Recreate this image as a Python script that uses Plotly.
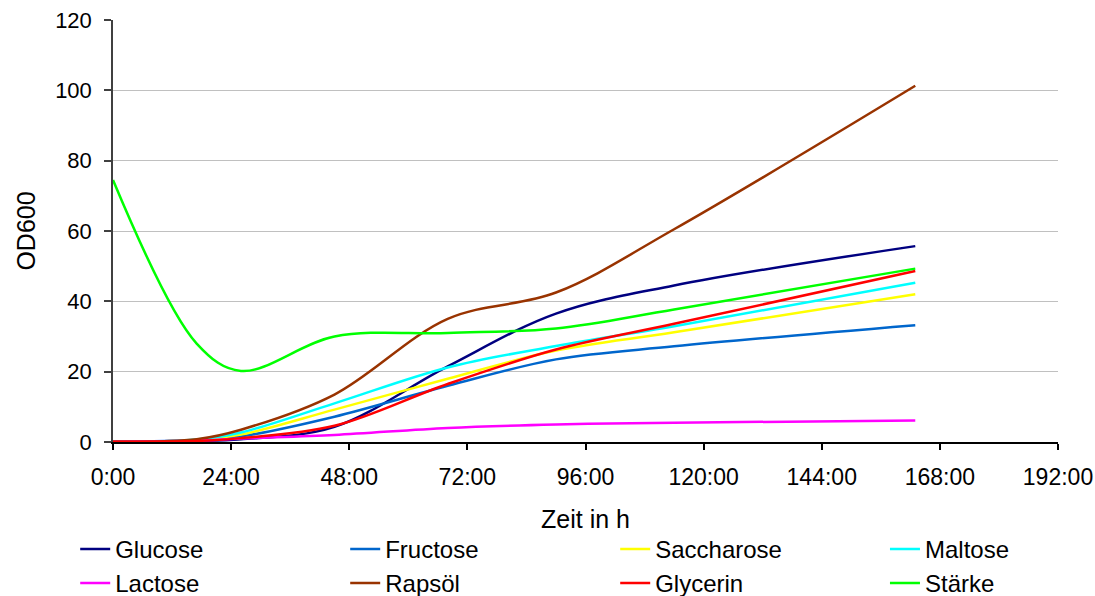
import plotly.graph_objects as go

# Time points (hours)
zeit_h = [0, 17, 26, 45, 68, 90, 114, 163]

glucose    = [0.1, 0.3, 0.8, 4.3, 21.5, 36.5, 44.5, 55.7]
fructose   = [0.1, 0.5, 1.6, 7.2, 16.0, 23.5, 27.2, 33.2]
saccharose = [0.1, 0.6, 2.1, 9.2, 18.0, 26.0, 31.2, 42.0]
maltose    = [0.1, 0.7, 2.7, 11.0, 21.2, 27.3, 32.9, 45.3]
lactose    = [0.1, 0.4, 1.0, 2.0, 4.0, 5.0, 5.5, 6.1]
rapsoel    = [0.1, 0.8, 3.5, 13.5, 35.0, 42.5, 60.5, 101.3]
glycerin   = [0.1, 0.3, 1.1, 4.6, 16.5, 26.3, 33.6, 48.6]
staerke    = [74.5, 28.0, 20.2, 30.0, 31.0, 32.3, 37.7, 49.3]

series_names = ["Glucose", "Fructose", "Saccharose", "Maltose",
                "Lactose", "Rapsöl", "Glycerin", "Stärke"]
series_values = [glucose, fructose, saccharose, maltose,
                 lactose, rapsoel, glycerin, staerke]
series_colors = ["#000080", "#0066CC", "#FFFF00", "#00FFFF",
                 "#FF00FF", "#993300", "#FF0000", "#00FF00"]
# 4th legend column (Maltose, Stärke) goes in a second legend box
series_legend = ["legend", "legend", "legend", "legend2",
                 "legend", "legend", "legend", "legend2"]

x_tickvals = [0, 24, 48, 72, 96, 120, 144, 168, 192]
x_ticktext = ["0:00", "24:00", "48:00", "72:00", "96:00",
              "120:00", "144:00", "168:00", "192:00"]
y_tickvals = [0, 20, 40, 60, 80, 100, 120]

FONT = "Liberation Sans, Arial, sans-serif"
LEG_FONT = dict(family=FONT, size=24, color="black")

fig = go.Figure()
for name, vals, col, leg in zip(series_names, series_values, series_colors, series_legend):
    fig.add_trace(go.Scatter(
        x=zeit_h, y=vals, name=name, mode="lines", legend=leg,
        line=dict(color=col, width=2.5, shape="spline", smoothing=1.0),
    ))

fig.update_layout(
    width=1095, height=596,
    margin=dict(l=113, r=37, t=20, b=154, autoexpand=False),
    paper_bgcolor="white", plot_bgcolor="white",
    font=dict(family=FONT, size=22, color="black"),
    showlegend=True,
    legend=dict(
        orientation="h", x=-0.040, xanchor="left", y=-0.201, yanchor="top",
        entrywidth=225, entrywidthmode="pixels",
        font=LEG_FONT, tracegroupgap=0, itemwidth=30, bgcolor="rgba(0,0,0,0)",
    ),
    legend2=dict(
        orientation="v", x=0.8169, xanchor="left", y=-0.201, yanchor="top",
        font=LEG_FONT, tracegroupgap=0, itemwidth=30, bgcolor="rgba(0,0,0,0)",
    ),
    xaxis=dict(
        range=[0, 192], tickmode="array", tickvals=x_tickvals, ticktext=x_ticktext,
        showgrid=False, zeroline=False, automargin=False,
        showline=True, linecolor="black", linewidth=1.5,
        ticks="outside", ticklen=6, tickcolor="black", tickwidth=1.5,
        ticklabelstandoff=8,
        tickfont=dict(family=FONT, size=23),
        title=dict(text="Zeit in h", font=dict(family=FONT, size=25), standoff=21),
    ),
    yaxis=dict(
        range=[0, 120], tickmode="array", tickvals=y_tickvals,
        showgrid=True, gridcolor="#C0C0C0", gridwidth=1,
        zeroline=False, automargin=False,
        showline=True, linecolor="#404040", linewidth=1.5,
        ticks="outside", ticklen=7, tickcolor="#404040", tickwidth=1.5,
        ticklabelstandoff=8,
        tickfont=dict(family=FONT, size=22),
        title=dict(text="OD600", font=dict(family=FONT, size=25), standoff=12),
    ),
)

fig.write_html("out.html")
